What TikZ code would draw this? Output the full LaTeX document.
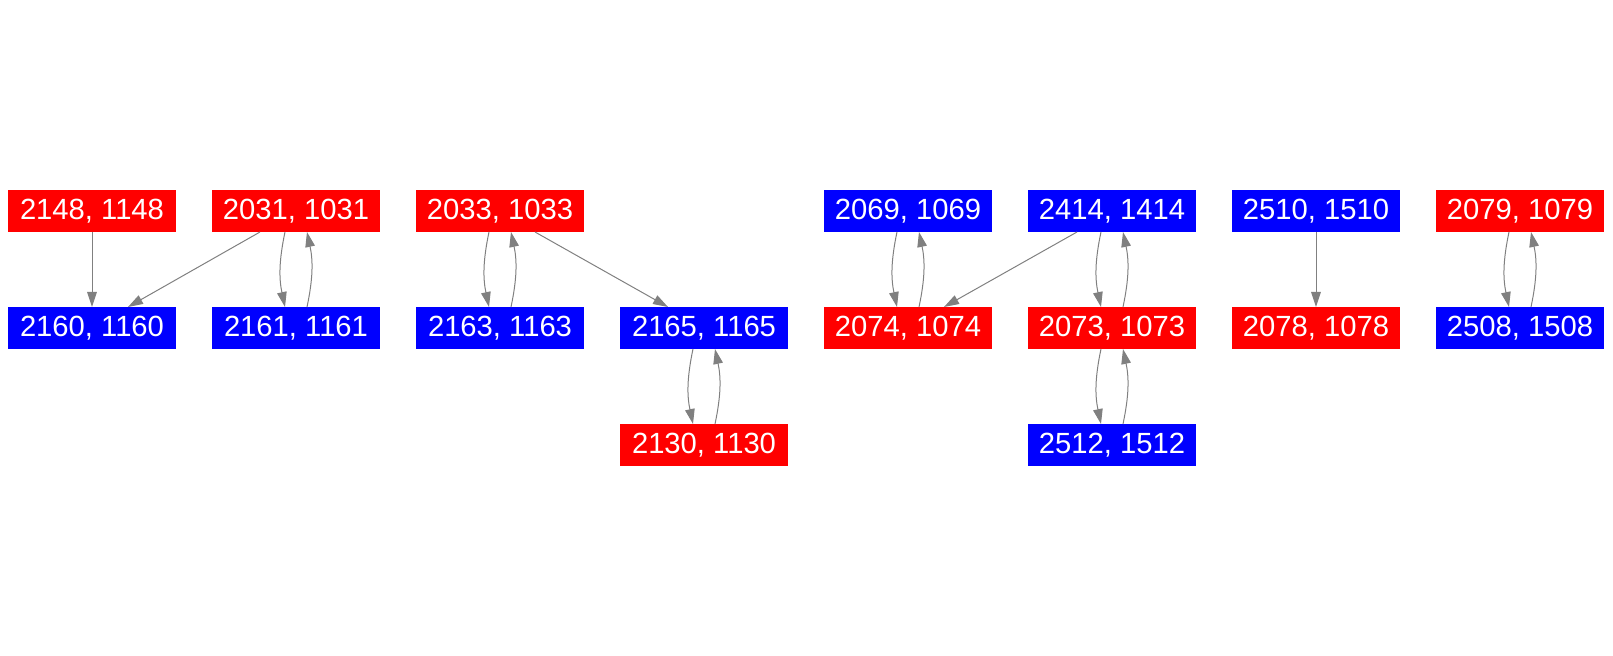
\documentclass[tikz,border=0pt]{standalone}
\usepackage{fontspec}
\setmainfont{Liberation Sans}
\usepackage{tikz}
\usetikzlibrary{arrows.meta,positioning}
\definecolor{nodered} {RGB}{255,0,0}
\definecolor{nodeblue}{RGB}{0,0,255}
\definecolor{edgegray}{RGB}{128,128,128}
\tikzset{
  idbox/.style ={minimum width=84pt, minimum height=21pt, inner sep=0pt,
                 outer sep=0pt, text=white,
                 font=\fontsize{14.6pt}{16pt}\selectfont},
  redbox/.style ={idbox, fill=nodered},
  bluebox/.style={idbox, fill=nodeblue},
  link/.style   ={-{Triangle[length=7.5pt,width=4.8pt]}, draw=edgegray,
                  line width=0.5pt},
  twin/.style   ={link, bend right=12},
}

\begin{document}
\begin{tikzpicture}[node distance=37.5pt and 18pt]
  \useasboundingbox (0,0) rectangle (806.5pt,-328pt);
  % top row
  \node[redbox] (n2148) at (46pt,-105.5pt) {2148, 1148};
  \node[redbox, right=of n2148] (n2031) {2031, 1031};
  \node[redbox, right=of n2031] (n2033) {2033, 1033};
  \node[bluebox, right=120pt of n2033] (n2069) {2069, 1069};
  \node[bluebox, right=of n2069] (n2414) {2414, 1414};
  \node[bluebox, right=of n2414] (n2510) {2510, 1510};
  \node[redbox, right=of n2510] (n2079) {2079, 1079};
  % second row
  \node[bluebox, below=of n2148] (n2160) {2160, 1160};
  \node[bluebox, below=of n2031] (n2161) {2161, 1161};
  \node[bluebox, below=of n2033] (n2163) {2163, 1163};
  \node[bluebox, right=of n2163] (n2165) {2165, 1165};
  \node[redbox, below=of n2069] (n2074) {2074, 1074};
  \node[redbox, below=of n2414] (n2073) {2073, 1073};
  \node[redbox, below=of n2510] (n2078) {2078, 1078};
  \node[bluebox, below=of n2079] (n2508) {2508, 1508};
  % third row
  \node[redbox, below=of n2165] (n2130) {2130, 1130};
  \node[bluebox, below=of n2073] (n2512) {2512, 1512};

  \draw[link] (n2148) -- (n2160);
  \draw[link] ([xshift=-18pt]n2031.south) -- ([xshift=18pt]n2160.north);
  \draw[link] ([xshift=17.5pt]n2033.south) -- ([xshift=-18pt]n2165.north);
  \draw[link] ([xshift=-17.5pt]n2414.south) -- ([xshift=18pt]n2074.north);
  \draw[link] (n2510) -- (n2078);
  % pairs
  \foreach \up/\dn in {n2031/n2161, n2033/n2163, n2165/n2130,
                       n2069/n2074, n2414/n2073, n2073/n2512, n2079/n2508}{
    \draw[twin] ([xshift=-5.5pt]\up.south) to ([xshift=-5.5pt]\dn.north);
    \draw[twin] ([xshift=5.5pt]\dn.north) to ([xshift=5.5pt]\up.south);
  }
\end{tikzpicture}
\end{document}
